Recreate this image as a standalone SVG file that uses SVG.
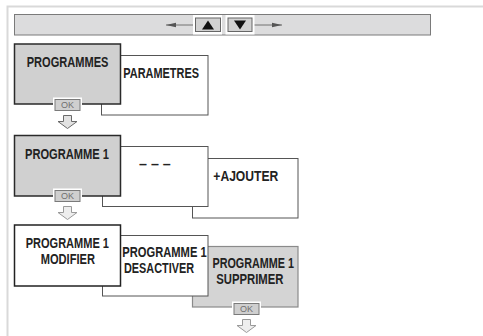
<svg xmlns="http://www.w3.org/2000/svg" width="483" height="336" viewBox="0 0 483 336">
<defs>
<style>
.t{font-family:"Liberation Sans",Arial,sans-serif;font-weight:bold;font-size:15px;fill:#222}
.t2{font-family:"Liberation Sans",Arial,sans-serif;font-weight:bold;font-size:14px;fill:#222}
.ok{font-family:"Liberation Sans",Arial,sans-serif;font-size:9px;fill:#6f6f6f;text-anchor:middle}
.gray{fill:#d0d0d0;stroke:#2a2a2a;stroke-width:1.5}
.white{fill:#fff;stroke:#555;stroke-width:1}
.front{fill:#fff;stroke:#222;stroke-width:1.5}
.graylt{fill:#d4d4d4;stroke:#8a8a8a;stroke-width:1.2}
.okb{fill:#cfcfcf;stroke:#7a7a7a;stroke-width:1}
.halo{fill:#fff}
.arr{fill:#e2e2e2;stroke:#6a6a6a;stroke-width:1}
.arrl{fill:#eeeeee;stroke:#9a9a9a;stroke-width:1}
.nav{stroke:#555;stroke-width:0.8;fill:none}
</style>
<marker id="ah" viewBox="0 0 10 6" refX="10" refY="3" markerWidth="10" markerHeight="6" markerUnits="userSpaceOnUse" orient="auto">
<path d="M0,0.8 L10,3 L0,5.2 Z" fill="#555"/>
</marker>
</defs>

<g id="frame">
<path d="M7.5,336 V6.5 H483" fill="none" stroke="#d9d9d9" stroke-width="2"/>
</g>

<g id="navbar">
<rect x="14.5" y="14.5" width="416" height="20.5" fill="#dcdcdd" stroke="#7a7a7a" stroke-width="1"/>
<line class="nav" x1="193" y1="25" x2="166" y2="25" marker-end="url(#ah)"/>
<line class="nav" x1="254" y1="25" x2="282" y2="25" marker-end="url(#ah)"/>
<rect x="193" y="15" width="29" height="19.5" fill="#fff"/>
<rect x="225.5" y="15" width="29" height="19.5" fill="#fff"/>
<rect x="195.5" y="18" width="25" height="13.5" fill="#d2d2d2" stroke="#666" stroke-width="1"/>
<rect x="228" y="18" width="24" height="13.5" fill="#d2d2d2" stroke="#666" stroke-width="1"/>
<path d="M202,29.5 L214,29.5 L208,20.5 Z" fill="#111"/>
<path d="M234,20.5 L246,20.5 L240,29.5 Z" fill="#111"/>
</g>

<g id="parametres">
<rect class="white" x="101.5" y="55.5" width="106.5" height="59.5"/>
<text class="t" x="123.3" y="78" textLength="75.7" lengthAdjust="spacingAndGlyphs">PARAMETRES</text>
</g>
<g id="programmes">
<rect class="gray" x="14.5" y="44" width="106" height="60"/>
<text class="t" x="26.7" y="66.7" textLength="81.7" lengthAdjust="spacingAndGlyphs">PROGRAMMES</text>
<rect class="halo" x="53" y="97.5" width="29" height="15"/>
<rect class="okb" x="55" y="99.5" width="25" height="11"/>
<text class="ok" x="67.5" y="108.3">OK</text>
</g>

<g id="ajouter">
<rect class="white" x="192.5" y="158.5" width="105.5" height="59.5"/>
<text class="t" x="213.3" y="180.7" textLength="65" lengthAdjust="spacingAndGlyphs">+AJOUTER</text>
</g>
<g id="vide">
<rect class="white" x="102.5" y="146.5" width="105.5" height="60"/>
<text class="t" x="139" y="168.5" textLength="31.7" lengthAdjust="spacingAndGlyphs">– – –</text>
</g>
<g id="programme1">
<rect class="gray" x="14.5" y="135.5" width="106" height="60.5"/>
<text class="t" x="25" y="158.5" textLength="84" lengthAdjust="spacingAndGlyphs">PROGRAMME 1</text>
<rect class="halo" x="53" y="188.5" width="29" height="15"/>
<rect class="okb" x="55" y="190.5" width="25" height="11"/>
<text class="ok" x="67.5" y="199.3">OK</text>
</g>

<g id="supprimer">
<rect class="graylt" x="192.5" y="246.5" width="105.5" height="60.5"/>
<text class="t2"><tspan x="212.5" y="267.8" textLength="81.5" lengthAdjust="spacingAndGlyphs">PROGRAMME 1</tspan><tspan x="216.2" y="283.8" textLength="67.2" lengthAdjust="spacingAndGlyphs">SUPPRIMER</tspan></text>
<rect class="halo" x="232" y="301.5" width="29" height="15"/>
<rect class="okb" x="234" y="303.5" width="25" height="11"/>
<text class="ok" x="246.5" y="312.3">OK</text>
</g>
<g id="desactiver">
<rect class="white" x="102.5" y="235.5" width="105.5" height="60.5"/>
<text class="t2"><tspan x="122.3" y="256.8" textLength="84.4" lengthAdjust="spacingAndGlyphs">PROGRAMME 1</tspan><tspan x="124" y="272.8" textLength="70" lengthAdjust="spacingAndGlyphs">DESACTIVER</tspan></text>
</g>
<g id="modifier">
<rect class="front" x="14.5" y="225" width="106" height="61"/>
<text class="t2"><tspan x="25.7" y="247.8" textLength="83.3" lengthAdjust="spacingAndGlyphs">PROGRAMME 1</tspan><tspan x="40.7" y="263.8" textLength="54.3" lengthAdjust="spacingAndGlyphs">MODIFIER</tspan></text>
</g>

<g id="connectors">
<path class="arr" d="M63.5,115.5 H71.5 V121.5 H77 L67.5,128.5 L58,121.5 H63.5 Z"/>
<path class="arrl" d="M63.5,206.5 H71.5 V212.5 H77 L67.5,219.5 L58,212.5 H63.5 Z"/>
<path class="arrl" d="M242.5,319.5 H250.5 V325.5 H256 L246.5,332.5 L237,325.5 H242.5 Z"/>
</g>
</svg>
